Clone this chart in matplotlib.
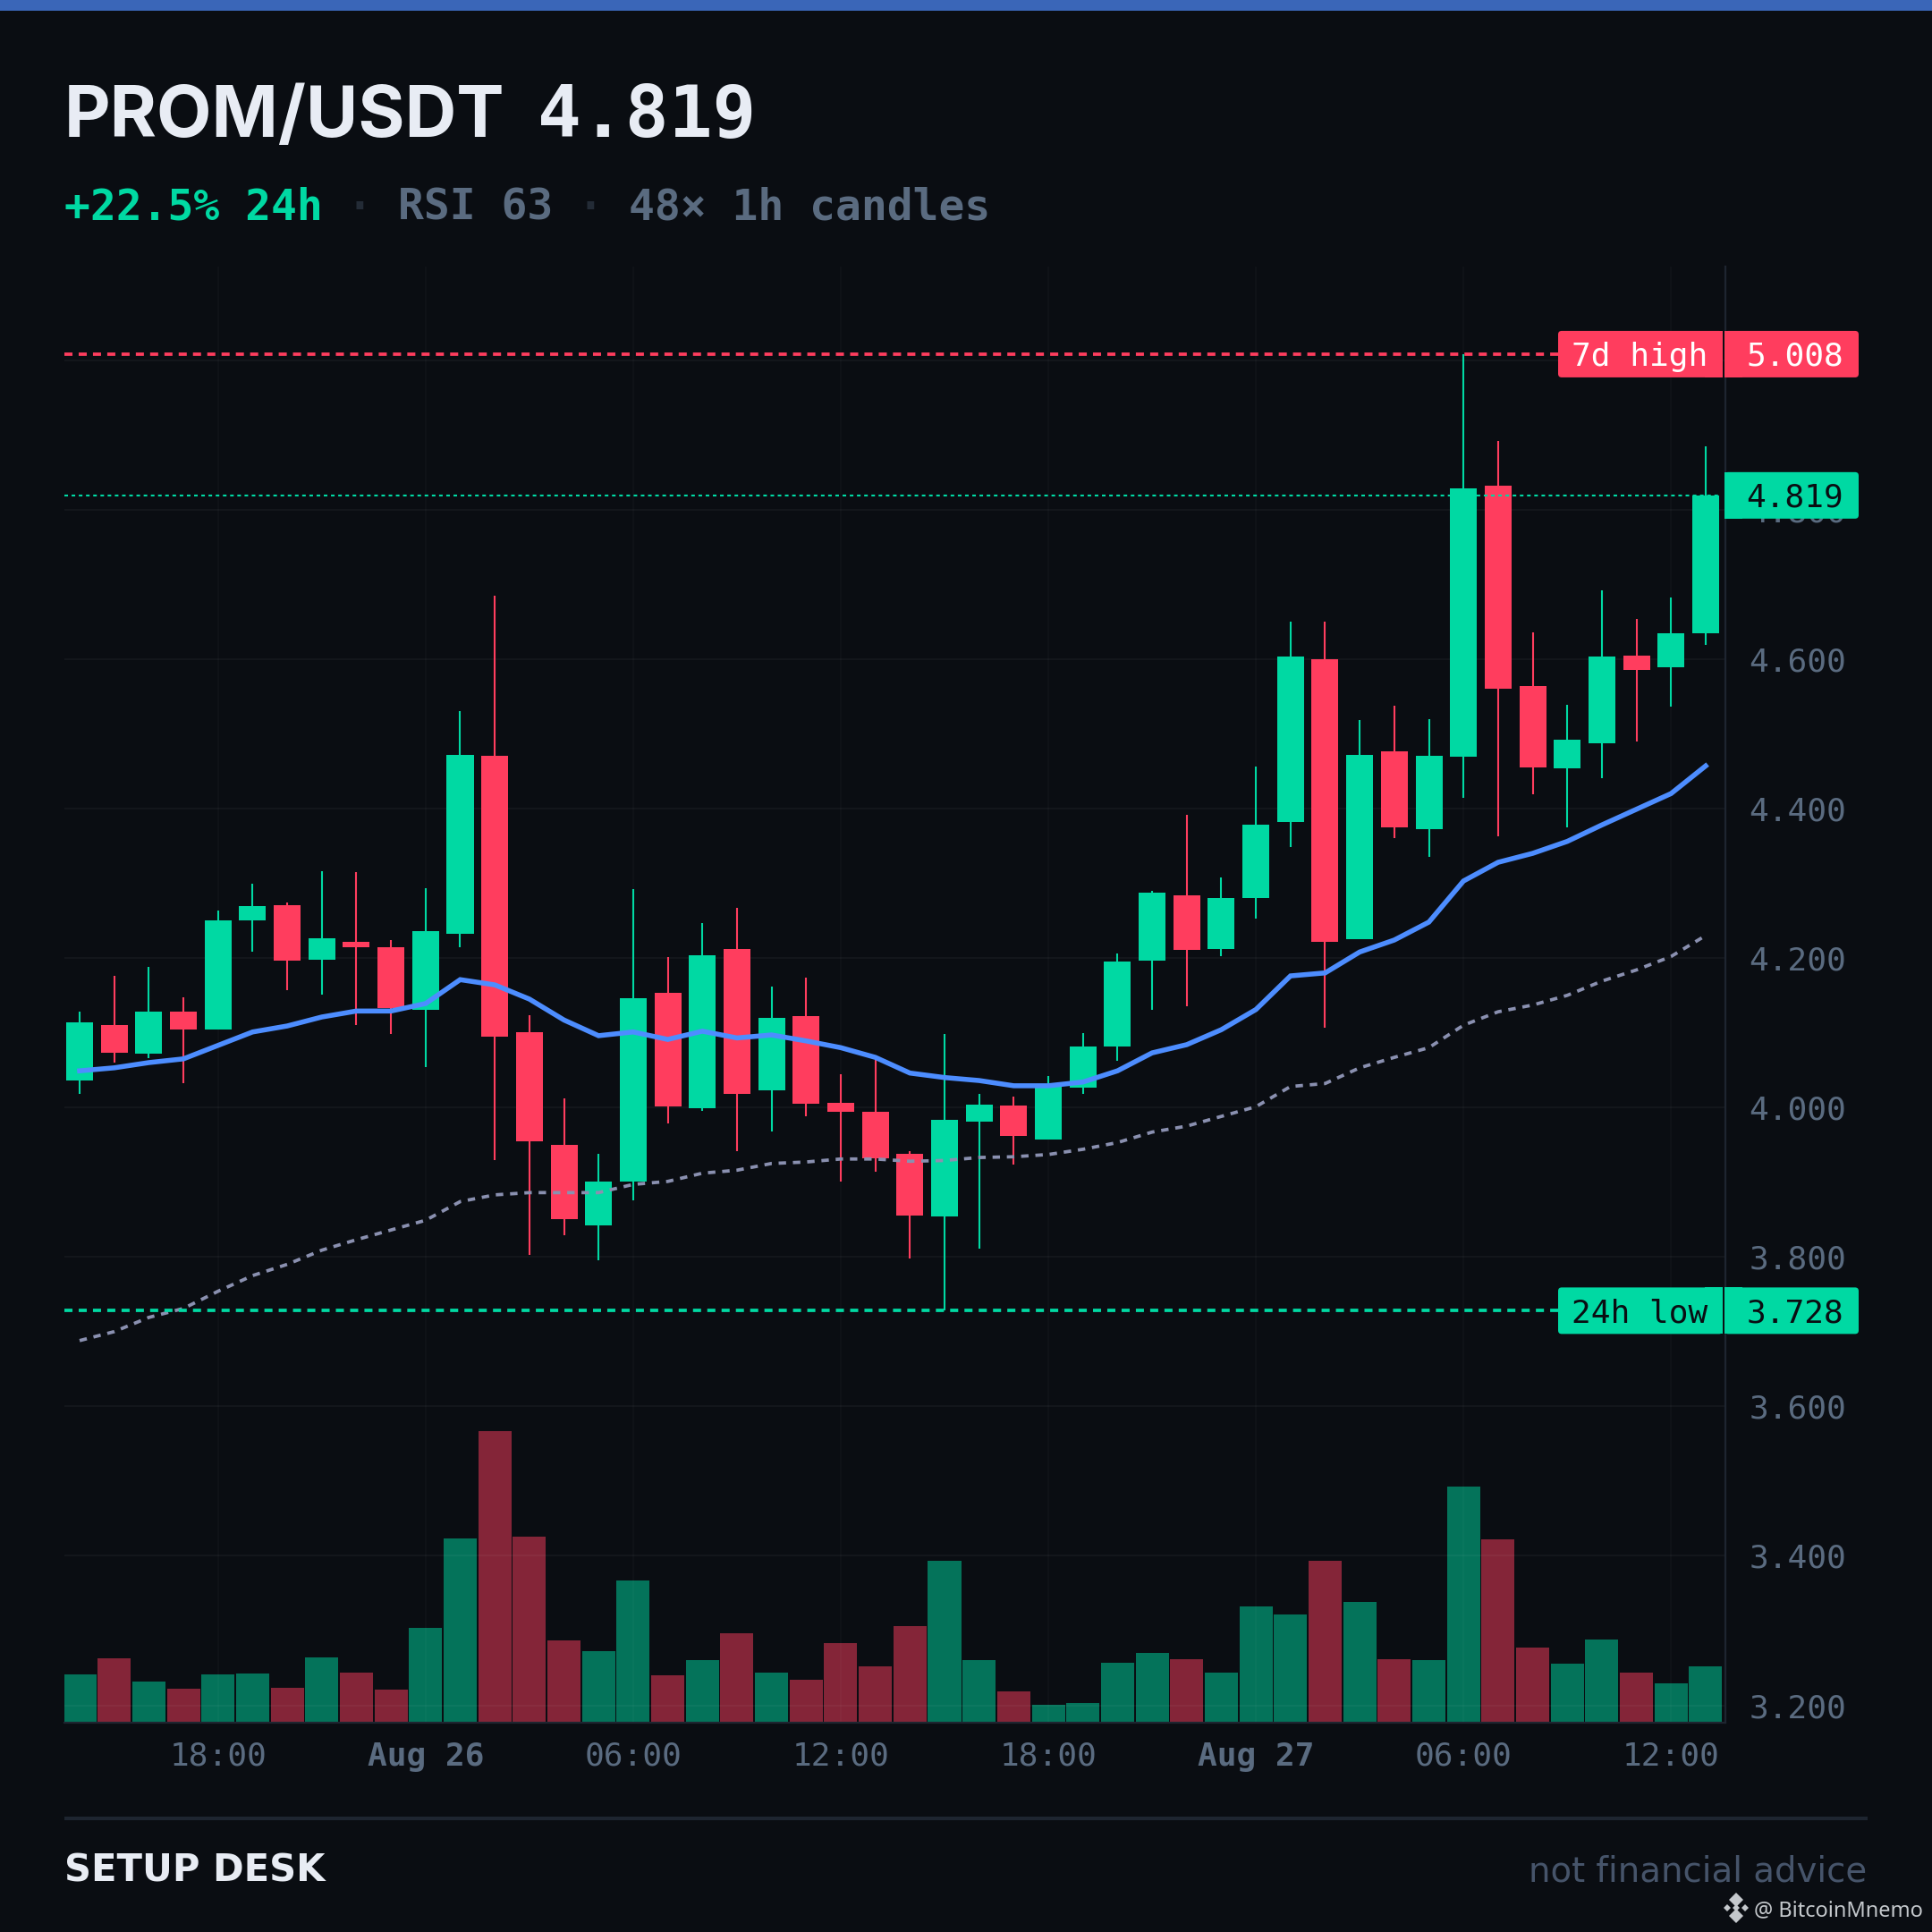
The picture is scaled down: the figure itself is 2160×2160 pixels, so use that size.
import matplotlib
matplotlib.use("Agg")
import matplotlib.pyplot as plt
from matplotlib.patches import FancyBboxPatch, Polygon, Rectangle
from matplotlib.transforms import IdentityTransform

W, H = 2160, 2160
plt.rcParams['lines.scale_dashes'] = False

# colours
BG = '#0a0d12'
UP = '#00d9a3'
DOWN = '#ff3d5e'
BLUE = '#4d8dff'
SLOW = '#8a90b0'
MUTED = '#5a6b80'
AXIS = '#1e2530'
LIGHT = '#e8ecf4'
MONO = 'DejaVu Sans Mono'

# 48 hourly candles, first one is Aug 25 14:00
opens = [4.036, 4.110, 4.072, 4.128, 4.104, 4.250, 4.271, 4.198, 4.222, 4.214, 4.131, 4.232,
         4.470, 4.101, 3.950, 3.842, 3.901, 4.153, 3.999, 4.212, 4.023, 4.122, 4.006, 3.994,
         3.938, 3.854, 3.981, 4.003, 3.957, 4.026, 4.082, 4.196, 4.284, 4.212, 4.280, 4.382,
         4.600, 4.225, 4.476, 4.372, 4.469, 4.832, 4.564, 4.454, 4.487, 4.605, 4.589, 4.634]
closes = [4.114, 4.073, 4.128, 4.104, 4.250, 4.269, 4.196, 4.226, 4.214, 4.133, 4.236, 4.472,
          4.095, 3.955, 3.850, 3.901, 4.146, 4.001, 4.204, 4.018, 4.120, 4.005, 3.994, 3.932,
          3.855, 3.983, 4.004, 3.962, 4.028, 4.082, 4.195, 4.287, 4.211, 4.280, 4.378, 4.603,
          4.222, 4.472, 4.375, 4.470, 4.828, 4.560, 4.455, 4.492, 4.603, 4.585, 4.634, 4.819]
highs = [4.128, 4.176, 4.188, 4.147, 4.263, 4.299, 4.274, 4.316, 4.315, 4.224, 4.293, 4.530,
         4.685, 4.123, 4.012, 3.938, 4.292, 4.201, 4.247, 4.267, 4.162, 4.174, 4.044, 4.070,
         3.941, 4.098, 4.018, 4.014, 4.042, 4.099, 4.206, 4.290, 4.392, 4.308, 4.456, 4.650,
         4.650, 4.518, 4.538, 4.520, 5.008, 4.892, 4.636, 4.539, 4.692, 4.654, 4.682, 4.885]
lows = [4.018, 4.060, 4.066, 4.032, 4.104, 4.208, 4.157, 4.151, 4.110, 4.098, 4.054, 4.214,
        3.930, 3.803, 3.829, 3.795, 3.876, 3.979, 3.995, 3.941, 3.968, 3.988, 3.901, 3.914,
        3.798, 3.728, 3.811, 3.924, 3.957, 4.018, 4.062, 4.131, 4.135, 4.202, 4.253, 4.348,
        4.107, 4.225, 4.360, 4.335, 4.414, 4.363, 4.419, 4.375, 4.441, 4.490, 4.536, 4.619]
ma_fast = [4.049, 4.053, 4.060, 4.065, 4.083, 4.101, 4.109, 4.121, 4.129, 4.129, 4.139, 4.171,
           4.164, 4.145, 4.117, 4.096, 4.101, 4.091, 4.102, 4.093, 4.097, 4.089, 4.080, 4.067,
           4.046, 4.040, 4.036, 4.029, 4.029, 4.034, 4.049, 4.073, 4.084, 4.104, 4.131, 4.176,
           4.180, 4.208, 4.224, 4.248, 4.303, 4.328, 4.340, 4.356, 4.378, 4.399, 4.420, 4.457]
ma_slow = [3.688, 3.700, 3.719, 3.731, 3.754, 3.775, 3.790, 3.809, 3.823, 3.836, 3.849, 3.874,
           3.883, 3.886, 3.886, 3.886, 3.897, 3.901, 3.912, 3.916, 3.925, 3.927, 3.931, 3.931,
           3.928, 3.929, 3.933, 3.934, 3.937, 3.944, 3.953, 3.967, 3.975, 3.988, 4.001, 4.028,
           4.032, 4.053, 4.067, 4.080, 4.110, 4.128, 4.137, 4.150, 4.169, 4.184, 4.202, 4.230]
volume = [53, 71, 45, 37, 53, 54, 38, 72, 55, 36, 105, 205, 325, 207, 91, 79, 158, 52, 69, 99,
          55, 47, 88, 62, 107, 180, 69, 34, 19, 21, 66, 77, 70, 55, 129, 120, 180, 134, 70, 69,
          263, 204, 83, 65, 92, 55, 43, 62]

x_ticks = [4, 10, 16, 22, 28, 34, 40, 46]
x_labels = ['18:00', 'Aug 26', '06:00', '12:00', '18:00', 'Aug 27', '06:00', '12:00']
y_ticks = [3.2, 3.4, 3.6, 3.8, 4.0, 4.2, 4.4, 4.6, 4.8, 5.0]

last_price = 4.819
high_7d = 5.008
low_24h = 3.728

idx = list(range(len(opens)))
colors = [UP if c >= o else DOWN for o, c in zip(opens, closes)]

fig = plt.figure(figsize=(W / 100, H / 100), dpi=100, facecolor=BG)
pos = [72 / W, (H - 1926) / H, 1857 / W, 1628 / H]
xlim = (-0.44, 47.57)

# volume goes on its own axes underneath, so the grid shows through it
ax_vol = fig.add_axes(pos, zorder=0, facecolor=BG)
ax_vol.bar(idx, volume, width=0.957, color=colors, alpha=0.5, linewidth=0)
ax_vol.set_xlim(xlim)
ax_vol.set_ylim(-1, max(volume) / 0.2)
ax_vol.axis('off')

ax = fig.add_axes(pos, zorder=1)
ax.patch.set_visible(False)
ax.set_xlim(xlim)
ax.set_ylim(3.1767, 5.1252)
ax.set_axisbelow(True)
for s in ['left', 'top']:
    ax.spines[s].set_visible(False)
for s in ['right', 'bottom']:
    ax.spines[s].set_color(AXIS)
    ax.spines[s].set_linewidth(1.6)

ax.yaxis.tick_right()
ax.set_yticks(y_ticks, [f'{v:.3f}' for v in y_ticks])
ax.set_xticks(x_ticks, x_labels)
ax.tick_params(axis='both', length=0, labelcolor=MUTED, labelsize=26)
ax.tick_params(axis='y', pad=19)
ax.tick_params(axis='x', pad=15)
for t in ax.get_xticklabels() + ax.get_yticklabels():
    t.set_family(MONO)
for t in ax.get_xticklabels():
    if t.get_text().startswith('Aug'):
        t.set_fontweight('bold')
ax.grid(axis='y', color='white', alpha=0.05, linewidth=1.1)
ax.grid(axis='x', color='white', alpha=0.03, linewidth=1.1)

# candles
ax.vlines(idx, lows, highs, colors=colors, linewidth=1.5, zorder=2)
bodies = [c - o for o, c in zip(opens, closes)]
ax.bar(idx, bodies, bottom=opens, width=0.776, color=colors, linewidth=0, zorder=3)

ax.plot(idx, ma_slow, color=SLOW, linewidth=2.7, linestyle=(0, (6, 5.5)), zorder=4)
ax.plot(idx, ma_fast, color=BLUE, linewidth=4, solid_joinstyle='miter', zorder=5)

# level lines stop at their tags, x is in axes fraction here
yax = ax.get_yaxis_transform()
ax.plot([0, 0.8993], [high_7d, high_7d], transform=yax, color=DOWN, linewidth=2.7,
        linestyle=(0, (6.5, 5)), zorder=6)
ax.plot([0, 0.8993], [low_24h, low_24h], transform=yax, color=UP, linewidth=2.7,
        linestyle=(0, (6.5, 5)), zorder=6)
ax.plot([0, 0.997], [last_price, last_price], transform=yax, color=UP, linewidth=1.5,
        linestyle=(0, (2.9, 2.9)), zorder=6)


def put(x, y, s, **kw):
    # x, y are pixels from the top left of the picture
    return fig.text(x / W, 1 - y / H, s, va='baseline', **kw)


def tag(value, x0, x1, label, bg, fg, flat):
    # price tag centred on a value of the price axis
    yc = ax.transData.transform((0, value))[1]
    r = 4
    fig.add_artist(FancyBboxPatch((x0 + r, yc - 26 + r), x1 - x0 - 2 * r, 52 - 2 * r,
                                  boxstyle=f'round,pad={r},rounding_size={r}', facecolor=bg,
                                  edgecolor='none', transform=IdentityTransform(), zorder=10))
    sq_x = x0 if flat == 'left' else x1 - 20
    fig.add_artist(Rectangle((sq_x, yc - 26), 20, 52, facecolor=bg, edgecolor='none',
                             transform=IdentityTransform(), zorder=10))
    fig.text((x1 - 17) / W, (yc - 13) / H, label, ha='right', va='baseline', color=fg,
             family=MONO, fontsize=26, zorder=11)


tag(high_7d, 1742, 1926, '7d high', DOWN, 'white', 'right')
tag(high_7d, 1928, 2078, f'{high_7d:.3f}', DOWN, 'white', 'left')
tag(last_price, 1928, 2078, f'{last_price:.3f}', UP, BG, 'left')
tag(low_24h, 1742, 1926, '24h low', UP, BG, 'right')
tag(low_24h, 1928, 2078, f'{low_24h:.3f}', UP, BG, 'left')

# header
fig.add_artist(Rectangle((0, 1 - 12 / H), 1, 12 / H, facecolor='#3a66b8', edgecolor='none',
                         transform=fig.transFigure))
put(72, 153, 'PROM/USDT', color=LIGHT, family='Inter', fontweight='bold', fontsize=57.5)
put(601, 153, f'{last_price}', color=LIGHT, family=MONO, fontweight='bold', fontsize=58.5)
put(72, 246, '+22.5% 24h', color=UP, family=MONO, fontweight='bold', fontsize=34.6)
put(387, 246, '·', color='#232b36', family=MONO, fontweight='bold', fontsize=34.6)
put(445, 246, 'RSI 63', color=MUTED, family=MONO, fontweight='bold', fontsize=34.6)
put(645, 246, '·', color='#232b36', family=MONO, fontweight='bold', fontsize=34.6)
put(703, 246, '48× 1h candles', color=MUTED, family=MONO, fontweight='bold', fontsize=34.6)

# footer
fig.add_artist(Rectangle((72 / W, 1 - 2035 / H), 2016 / W, 4 / H, facecolor=AXIS, edgecolor='none',
                         transform=fig.transFigure))
put(72, 2104, 'SETUP DESK', color=LIGHT, family='DejaVu Sans', fontweight='bold', fontsize=30)
put(2087, 2103, 'not financial advice', ha='right', color='#46546a', family='DejaVu Sans', fontsize=27.8)
put(1961, 2142, '@ BitcoinMnemo', color='#c4c8cc', family='Noto Sans', fontsize=17)

# small exchange mark next to the watermark
for cx, cy, d in [(1941, 2124, 8), (1941, 2142, 8), (1931, 2133, 4), (1951, 2133, 4), (1941, 2133, 4)]:
    fig.add_artist(Polygon([(cx - d, H - cy), (cx, H - cy + d), (cx + d, H - cy), (cx, H - cy - d)],
                           facecolor='#c4c8cc', edgecolor='none', transform=IdentityTransform()))

fig.savefig('out.png', dpi=100, facecolor=BG)
